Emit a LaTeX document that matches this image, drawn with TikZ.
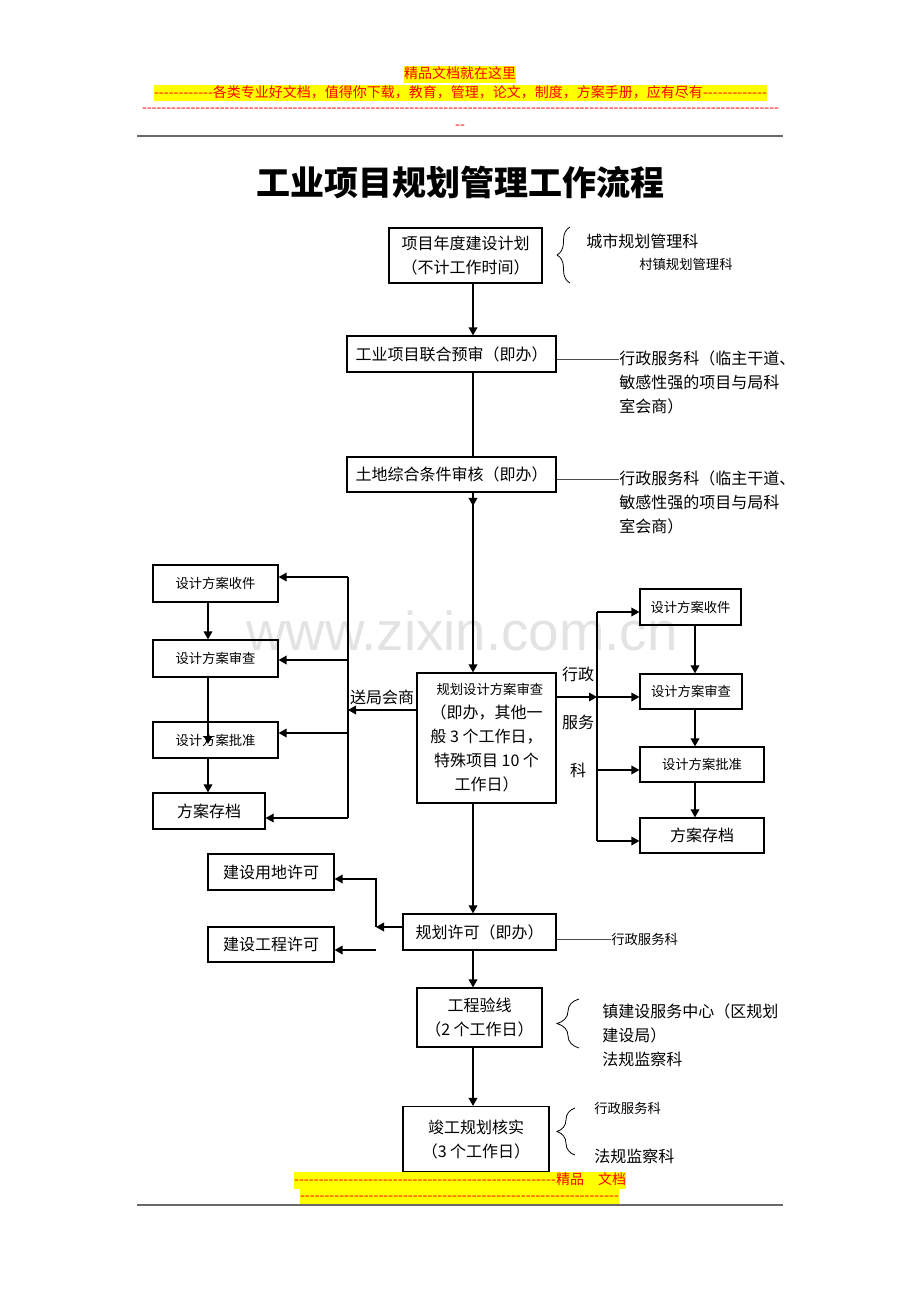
\documentclass[tikz,border=0pt]{standalone}
\usepackage{fontspec}
\setmainfont{Noto Sans CJK SC}
\newfontfamily\wmfont{Liberation Sans}
\usetikzlibrary{arrows.meta,decorations.pathreplacing,decorations.markings}

\newdimen\pxu \pxu=0.75pt
\newcommand\nsz{\fontsize{12}{18}\selectfont}
\newcommand\ssz{\fontsize{10}{18}\selectfont}
\newcommand\dashrun[1]{\hbox to #1\pxu{\xleaders\hbox{-}\hfill}}

\definecolor{hlyellow}{RGB}{255,255,0}
\definecolor{hlred}{RGB}{255,0,0}
\definecolor{rulegray}{RGB}{105,105,105}

\tikzset{
  box/.style={draw,line width=0.9pt,inner sep=0pt,font=\nsz,align=center},
  boxwh/.style 2 args={minimum width=#1*0.75pt,minimum height=#2*0.75pt},
  arr/.style={line width=1pt,-{Triangle[length=6pt,width=6.5pt]}},
  link/.style={line width=1pt},
  midtip/.style={decoration={markings,mark=at position 10pt with {\arrow{Triangle[length=6pt,width=6.5pt]}}},postaction=decorate},
  sideline/.style={line width=0.6pt,black!70},
  side/.style={inner sep=0pt,font=\nsz,align=left},
  brc/.style={decorate,line width=0.6pt},
  hl/.style={fill=hlyellow,text=hlred,inner xsep=0pt,inner ysep=0pt,text height=9.5pt,text depth=3pt,font=\fontsize{10.5}{12}\selectfont},
  rulebar/.style={rulegray,line width=1.5pt},
  wmark/.style={text=black!11,inner sep=0pt,anchor=base,font=\wmfont\fontsize{41}{41}\selectfont}
}

\begin{document}
\begin{tikzpicture}[x=0.75pt,y=-0.75pt]
\useasboundingbox (0,0) rectangle (920,1302);

% watermark behind everything
\node[wmark] (wm) at (462,650) {www.zixin.com.cn};

% page header
\node[hl] (h1) at (460,74.5) {精品文档就在这里};
\node[hl] (h2) at (460.5,93) {\dashrun{59}各类专业好文档，值得你下载，教育，管理，论文，制度，方案手册，应有尽有\dashrun{64}};
\node[text=hlred,inner sep=0pt,font=\fontsize{10.5}{12}\selectfont] (h3) at (460.5,110) {\dashrun{637}};
\node[text=hlred,inner sep=0pt,font=\fontsize{10.5}{12}\selectfont] (h4) at (460,127) {\dashrun{10}};
\draw[rulebar] (137,136) -- (783,136);

% page footer
\node[hl] (f1) at (460,1180.5) {\dashrun{262}精品　文档};
\node[hl] (f2) at (459.5,1196) {\dashrun{319}};
\draw[rulebar] (137,1205) -- (783,1205);

% title
\node[font=\bfseries\fontsize{25.5}{30}\selectfont] (title) at (460,182) {工业项目规划管理工作流程};

% main column
\coordinate (mx) at (473,0);
\node[box,boxwh={153}{55}] (b1) at (465.5,255.5) {项目年度建设计划\\（不计工作时间）};
\node[box,boxwh={209}{36}] (b2) at (451.5,354) {工业项目联合预审（即办）};
\node[box,boxwh={209}{35}] (b3) at (451.5,474.5) {土地综合条件审核（即办）};
\node[box,boxwh={139}{130}] (b4) at (486.5,738) {\hspace*{5pt}{\ssz 规划设计方案审查}\\（即办，其他一\\般 3 个工作日，\\特殊项目 10 个\\工作日）};
\node[box,boxwh={153}{36}] (b5) at (479.5,932) {规划许可（即办）};
\node[box,boxwh={125}{59}] (b6) at (479.5,1017.5) {工程验线\\（2 个工作日）};
\node[box,boxwh={146}{65}] (b7) at (476,1139) {竣工规划核实\\（3 个工作日）};

\draw[arr] (b1.south -| mx) -- (b2.north -| mx);
\draw[link] (b2.south -| mx) -- (b3.north -| mx);
\draw[arr,midtip] (b3.south -| mx) -- (b4.north -| mx);
\draw[arr] (b4.south -| mx) -- (b5.north -| mx);
\draw[arr] (b5.south -| mx) -- (b6.north -| mx);
\draw[arr] (b6.south -| mx) -- (b7.north -| mx);

% notes on the right of the column
\draw[brc,decoration={brace,amplitude=9.75pt}] (570,283) -- (570,227);
\node[side,anchor=west] (s1a) at (586,241) {城市规划管理科};
\node[side,anchor=west,font=\ssz] (s1b) at (639,264) {村镇规划管理科};

\coordinate (k2) at (619,359);
\draw[sideline] (b2.east |- k2) -- (k2);
\node[side,anchor=north west] (s2) at (619,351) {行政服务科（临主干道、\\敏感性强的项目与局科\\室会商）};

\coordinate (k3) at (619,479);
\draw[sideline] (b3.east |- k3) -- (k3);
\node[side,anchor=north west] (s3) at (619,471) {行政服务科（临主干道、\\敏感性强的项目与局科\\室会商）};

% left branch: sent for consultation
\node[box,boxwh={125}{37},font=\ssz] (l1) at (215.5,583.5) {设计方案收件};
\node[box,boxwh={125}{37},font=\ssz] (l2) at (215.5,658.5) {设计方案审查};
\node[box,boxwh={125}{36},font=\ssz] (l3) at (215.5,740) {设计方案批准};
\node[box,boxwh={112}{36}] (l4) at (209,811) {方案存档};

\coordinate (le) at (348,710);
\coordinate (la) at (348,577);
\coordinate (lb) at (348,660);
\coordinate (lc) at (348,733);
\coordinate (ld) at (348,818);
\draw[arr] (b4.west |- le) -- (le);
\node[side] (slhs) at (382,697) {送局会商};
\draw[link] (la) -- (ld);
\draw[arr] (la) -- (la -| l1.east);
\draw[arr] (lb) -- (lb -| l2.east);
\draw[arr] (lc) -- (lc -| l3.east);
\draw[arr] (ld) -- (ld -| l4.east);

\coordinate (lv) at (208,0);
\coordinate (l3in) at (208,744);
\draw[arr] (l1.south -| lv) -- (l2.north -| lv);
\draw[arr] (l2.south -| lv) -- (l3in);
\draw[arr] (l3.south -| lv) -- (l4.north -| lv);

% right branch: administrative service section
\node[box,boxwh={101}{36},font=\ssz] (r1) at (690.5,607) {设计方案收件};
\node[box,boxwh={102}{35},font=\ssz] (r2) at (691,691.5) {设计方案审查};
\node[box,boxwh={124}{35},font=\ssz] (r3) at (702,764.5) {设计方案批准};
\node[box,boxwh={124}{35}] (r4) at (702,835.5) {方案存档};

\coordinate (ra) at (597,612);
\coordinate (rb) at (597,697);
\coordinate (rc) at (597,770);
\coordinate (rd) at (597,841);
\draw[arr] (b4.east |- rb) -- (rb);
\node[side,align=center,anchor=north,font=\fontsize{12}{36}\selectfont] (srhs) at (578,667) {行政\\服务\\科};
\draw[link] (ra) -- (rd);
\draw[arr] (ra) -- (ra -| r1.west);
\draw[arr] (rb) -- (rb -| r2.west);
\draw[arr] (rc) -- (rc -| r3.west);
\draw[arr] (rd) -- (rd -| r4.west);

\coordinate (rv) at (695,0);
\draw[arr] (r1.south -| rv) -- (r2.north -| rv);
\draw[arr] (r2.south -| rv) -- (r3.north -| rv);
\draw[arr] (r3.south -| rv) -- (r4.north -| rv);

% permits
\node[box,boxwh={126}{36}] (u1) at (271,872) {建设用地许可};
\node[box,boxwh={126}{35}] (u2) at (271,944.5) {建设工程许可};
\coordinate (ja) at (376,927);
\coordinate (jb) at (376,879);
\coordinate (jc) at (376,950);
\draw[arr] (b5.west |- ja) -- (ja);
\draw[arr] (ja) -- (jb) -- (jb -| u1.east);
\draw[arr] (jc) -- (jc -| u2.east);

\coordinate (k5) at (611,939);
\draw[sideline] (b5.east |- k5) -- (k5);
\node[side,anchor=west,font=\ssz] (s5) at (k5) {行政服务科};

% checks
\draw[brc,decoration={brace,amplitude=16.5pt}] (579,1048) -- (579,999);
\node[side,anchor=north west] (s6) at (602,1004) {镇建设服务中心（区规划\\建设局）\\法规监察科};

\draw[brc,decoration={brace,amplitude=13.5pt}] (575,1155) -- (575,1108);
\node[side,anchor=west,font=\ssz] (s7a) at (594,1108) {行政服务科};
\node[side,anchor=west] (s7b) at (594,1156) {法规监察科};
\end{tikzpicture}
\end{document}
